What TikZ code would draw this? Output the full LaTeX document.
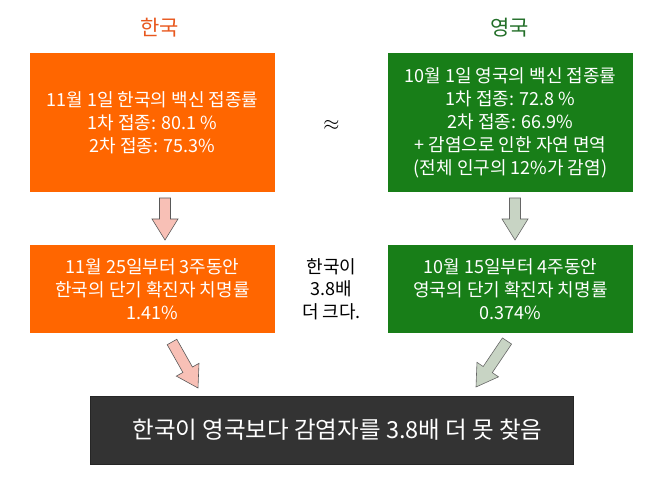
\documentclass[tikz,border=0pt]{standalone}
\usepackage{fontspec}
\setmainfont{Noto Sans CJK KR}
\usetikzlibrary{positioning,calc}
\definecolor{korange}{RGB}{255,102,0}
\definecolor{kred}{RGB}{232,88,30}
\definecolor{egreen}{RGB}{24,126,24}
\definecolor{edark}{RGB}{34,110,40}
\definecolor{kpink}{RGB}{248,192,182}
\definecolor{egrey}{RGB}{200,212,196}
\definecolor{sumgray}{RGB}{51,51,51}
\tikzset{
  kbox/.style={rectangle,fill=korange,text=white,minimum width=245pt,align=center,
    inner sep=0pt,outer sep=0pt,font=\fontsize{18}{23}\selectfont},
  ebox/.style={kbox,fill=egreen},
  ttl/.style={font=\fontsize{21}{24}\selectfont},
  note/.style={align=center,font=\fontsize{18}{22.5}\selectfont},
  sumbox/.style={rectangle,fill=sumgray,draw=black!85,line width=1pt,text=white,
    minimum width=483pt,minimum height=68pt,outer sep=0pt,font=\fontsize{23.5}{26}\selectfont},
  karr/.style={fill=kpink,draw=black!65,line width=0.6pt},
  earr/.style={fill=egrey,draw=black!60,line width=0.6pt},
}
% fat block arrow: style, from, to
\newcommand\fatarrow[3]{%
  \coordinate (fh) at ($(#3)!21pt!(#2)$);
  \draw[#1] ($(#2)!5.5pt!90:(#3)$) -- ($(fh)!5.5pt!90:(#3)$) -- ($(fh)!13pt!90:(#3)$) -- (#3)
    -- ($(fh)!13pt!-90:(#3)$) -- ($(fh)!5.5pt!-90:(#3)$) -- ($(#2)!5.5pt!-90:(#3)$) -- cycle;}

\begin{document}
\begin{tikzpicture}[x=1pt,y=1pt]
  \useasboundingbox (0,0) rectangle (658,482);
  % vaccination
  \node[kbox,minimum height=139pt] (kvac) at (152.5,359.5)
    {11월 1일 한국의 백신 접종률\\1차 접종: 80.1 \%\\2차 접종: 75.3\%};
  \node[ebox,minimum height=139pt,right=113pt of kvac] (evac)
    {10월 1일 영국의 백신 접종률\\1차 접종: 72.8 \%\\2차 접종: 66.9\%\\+ 감염으로 인한 자연 면역\\(전체 인구의 12\%가 감염)};
  \node[ttl,text=kred] (ktit) at ($(kvac.north)+(7,25)$) {한국};
  \node[ttl,text=edark] (etit) at ($(evac.north)+(-1,25)$) {영국};
  \node[font=\fontsize{22}{24}\selectfont] (approx) at ($(kvac.east)!0.5!(evac.west)+(0,-3)$) {$\approx$};
  % fatality
  \node[kbox,minimum height=88pt,below=53pt of kvac] (kcfr)
    {11월 25일부터 3주동안\\한국의 단기 확진자 치명률\\1.41\%};
  \node[ebox,minimum height=88pt,right=113pt of kcfr] (ecfr)
    {10월 15일부터 4주동안\\영국의 단기 확진자 치명률\\0.374\%};
  \node[note] (ratio) at ($(kcfr.east)!0.5!(ecfr.west)$) {한국이\\3.8배\\더 크다.};
  % conclusion
  \coordinate (mid) at ($(kcfr.south)!0.5!(ecfr.south)$);
  \node[sumbox,below=63pt of mid] (sum) {\hspace*{12pt}한국이 영국보다 감염자를 3.8배 더 못 찾음};
  % arrows
  \coordinate (ka1) at ($(kvac.south)+(12.5,-6)$);
  \coordinate (ka2) at ($(kcfr.north)+(12.5,5)$);
  \fatarrow{karr}{ka1}{ka2}
  \coordinate (ea1) at ($(evac.south)+(4.5,-6)$);
  \coordinate (ea2) at ($(ecfr.north)+(4.5,5)$);
  \fatarrow{earr}{ea1}{ea2}
  \coordinate (kb1) at ($(kcfr.south)+(19.5,-9)$);
  \coordinate (kb2) at ($(sum.north west)+(108,8)$);
  \fatarrow{karr}{kb1}{kb2}
  \coordinate (eb1) at ($(ecfr.south)+(-3.5,-8)$);
  \coordinate (eb2) at ($(sum.north east)+(-97,9)$);
  \fatarrow{earr}{eb1}{eb2}
\end{tikzpicture}
\end{document}
